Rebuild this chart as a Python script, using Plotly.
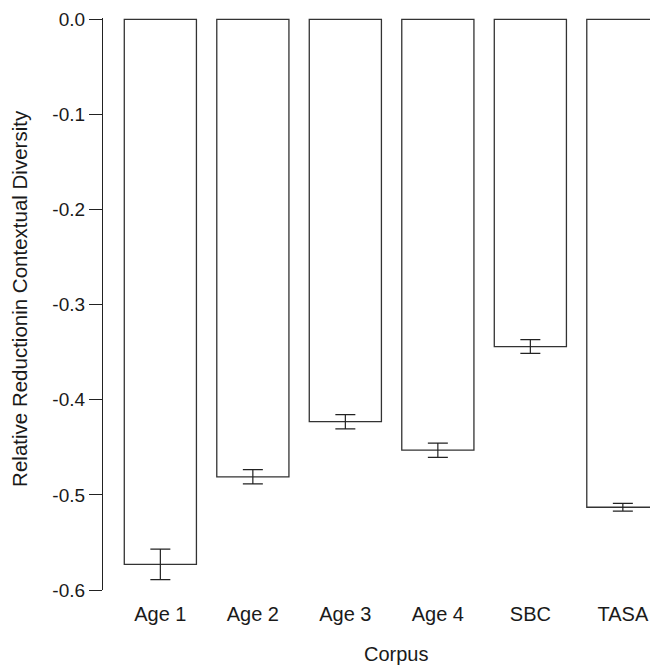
import plotly.graph_objects as go

categories = ["Age 1", "Age 2", "Age 3", "Age 4", "SBC", "TASA"]
values = [-0.573, -0.481, -0.423, -0.453, -0.344, -0.513]
errors = [0.016, 0.0075, 0.0075, 0.0075, 0.0072, 0.004]
y_ticks = [0.0, -0.1, -0.2, -0.3, -0.4, -0.5, -0.6]
y_labels = ["0.0", "-0.1", "-0.2", "-0.3", "-0.4", "-0.5", "-0.6"]

FONT = "Liberation Sans, Arial, Helvetica, sans-serif"
INK = "#1a1a1a"

fig = go.Figure(go.Bar(
    x=categories, y=values,
    marker=dict(color="white", line=dict(color="#333333", width=1.3)),
    width=0.78,
    error_y=dict(type="data", array=errors, visible=True, color="#222222",
                 thickness=1.2, width=10),
))

# page body has an 8px margin; size the figure so it fills the 658x666 window
fig.update_layout(
    width=650, height=658,
    margin=dict(l=95, r=0, t=10, b=76),
    plot_bgcolor="white", paper_bgcolor="white",
    showlegend=False,
    font=dict(family=FONT, size=19, color=INK),
    annotations=[
        dict(text="Corpus", xref="paper", yref="paper",
             x=0.528, y=-0.112, xanchor="center", yanchor="middle",
             showarrow=False, font=dict(family=FONT, size=20, color=INK)),
        dict(text="Relative Reductionin Contextual Diversity", xref="paper", yref="paper",
             x=-0.1495, y=0.509, xanchor="center", yanchor="middle", textangle=-90,
             showarrow=False, font=dict(family=FONT, size=20.5, color=INK)),
    ],
)
fig.update_xaxes(range=[-0.62, 5.38], showline=False, showgrid=False, ticks="",
                 tickfont=dict(size=20), ticklabelstandoff=10)
fig.update_yaxes(range=[-0.6, 0.0015], tickvals=y_ticks, ticktext=y_labels,
                 showline=True, linecolor="#222222", linewidth=1.2,
                 ticks="outside", ticklen=13, tickwidth=1.2, tickcolor="#222222",
                 showgrid=False, zeroline=False, tickfont=dict(size=19))

fig.write_html("out.html")
